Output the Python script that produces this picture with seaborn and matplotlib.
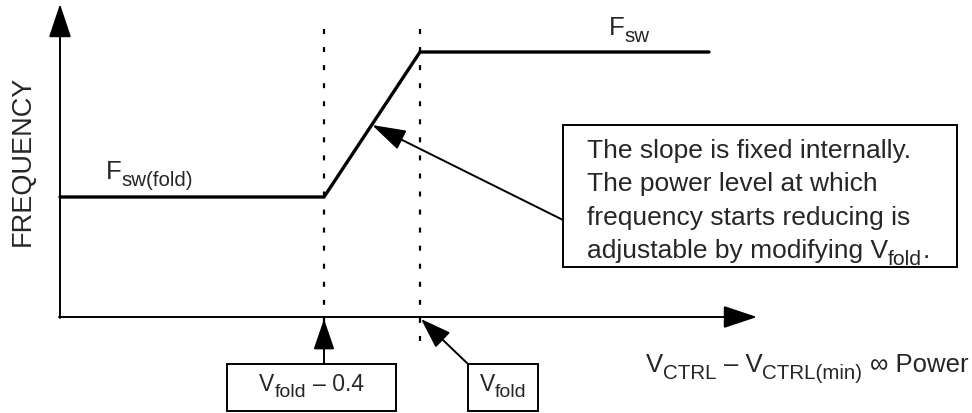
import matplotlib
matplotlib.use('Agg')
import matplotlib.pyplot as plt
import matplotlib.patches as patches
import seaborn as sns

# Dados do esquema (unidades = pixels da figura, y medido a partir do topo)
power = [60, 324, 420, 709]
freq = [198, 198, 53, 53]
fold_marks = [324, 420]
# texto com subscrito: lista de (texto, eh_subscrito)
fold_labels = [[('V', 0), ('fold', 1), (' – 0.4', 0)],
               [('V', 0), ('fold', 1)]]
note_lines = [[('The slope is fixed internally.', 0)],
              [('The power level at which', 0)],
              [('frequency starts reducing is', 0)],
              [('adjustable by modifying V', 0), ('fold', 1), ('.', 0)]]
fsw_label = [('F', 0), ('sw', 1)]
fsw_fold_label = [('F', 0), ('sw(fold)', 1)]
x_label = [('V', 0), ('CTRL', 1), (' – V', 0), ('CTRL(min)', 1), (' ∞ Power', 0)]
y_label = 'FREQUENCY'

sns.set_style('white')
plt.rcParams['font.family'] = ['Liberation Sans', 'DejaVu Sans']
plt.rcParams['lines.scale_dashes'] = False

fig = plt.figure(figsize=(9.72, 4.14), dpi=100)
ax = fig.add_axes([0, 0, 1, 1])
ax.set_xlim(0, 972)
ax.set_ylim(414, 0)
ax.axis('off')
renderer = fig.canvas.get_renderer()

# curva de frequencia
sns.lineplot(x=power, y=freq, ax=ax, color='black', lw=2.4, solid_joinstyle='miter')

# linhas tracejadas
ax.vlines(fold_marks, 30, 342, colors='black', lw=1.6, linestyles=(0, (3.6, 9.4)))


def arrow(xy, xytext, hl=20.5, hw=6.6, lw=1.4):
    ax.annotate('', xy=xy, xytext=xytext,
                arrowprops=dict(arrowstyle='-|>,head_length=%s,head_width=%s' % (hl, hw),
                                color='black', lw=lw, shrinkA=0, shrinkB=0,
                                mutation_scale=1))


def text_w(s, size):
    t1 = ax.text(0, 0, '|' + s + '|', fontsize=size)
    t2 = ax.text(0, 0, '||', fontsize=size)
    w = t1.get_window_extent(renderer).width - t2.get_window_extent(renderer).width
    t1.remove()
    t2.remove()
    return w


def rich(x, y, parts, size, ha='left', sub=0.8, drop=0.27):
    widths = [text_w(s, size * (sub if b else 1)) for s, b in parts]
    total = sum(widths)
    if ha == 'center':
        x -= total / 2
    elif ha == 'right':
        x -= total
    for (s, b), w in zip(parts, widths):
        fs = size * (sub if b else 1)
        lead = len(s) - len(s.lstrip())
        off = text_w(s[:lead], fs) if lead else 0
        dy = drop * size / 0.72 if b else 0
        ax.text(x + off, y + dy, s.strip(), fontsize=fs, va='baseline', ha='left')
        x += w


# eixos
arrow((60, 5), (60, 319), hl=21, hw=7)
arrow((757, 318), (59, 318), hl=21, hw=7)

# setas de anotacao
arrow((372, 126), (563, 221), hl=21, hw=6.5, lw=1.4)
arrow((fold_marks[0], 320), (fold_marks[0], 365), hl=19, hw=6.5, lw=1.4)
arrow((fold_marks[1] + 1, 320), (468, 365), hl=19, hw=6.5, lw=1.4)

# caixas
for x0, x1 in [(227, 396), (468, 538)]:
    ax.add_patch(patches.Rectangle((x0, 365), x1 - x0, 47, fill=False, lw=1.4, ec='black'))
ax.add_patch(patches.Rectangle((563, 126), 957 - 563, 142, fill=False, lw=1.4, ec='black'))

rich((227 + 396) / 2, 391, fold_labels[0], 16.5, ha='center', sub=0.85)
rich((468 + 538) / 2, 391, fold_labels[1], 16.5, ha='center', sub=0.85)

for i, line in enumerate(note_lines):
    rich(587, 158 + i * 33.3, line, 19)

ax.text(23, 161, y_label, rotation=90, ha='center', va='center', fontsize=19.5)
rich(609, 35, fsw_label, 18.5)
rich(106, 179, fsw_fold_label, 18.5)
rich(968, 372, x_label, 18.5, ha='right')

fig.savefig('out.png', dpi=100)
